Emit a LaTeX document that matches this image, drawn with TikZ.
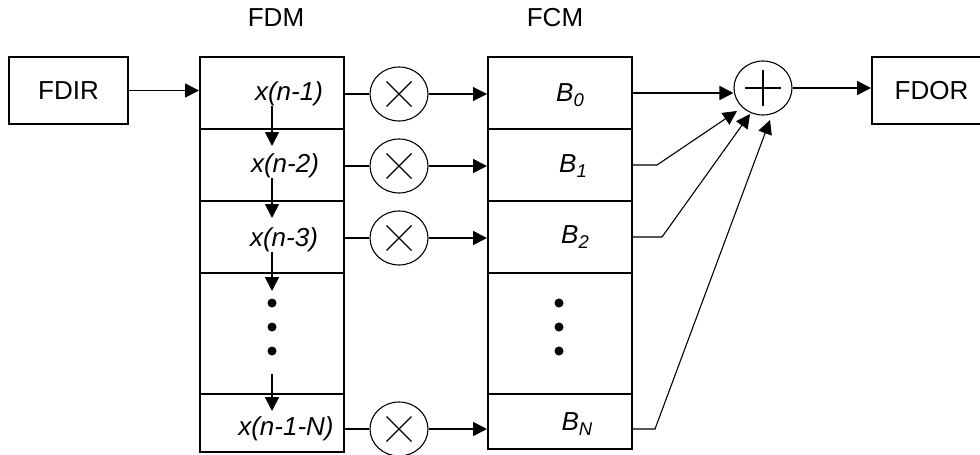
\documentclass[tikz,border=0pt]{standalone}
\usepackage{fontspec}
\setmainfont{Liberation Sans}
\usetikzlibrary{arrows.meta,shapes.geometric,calc}
\newcommand{\Bsub}[1]{\textit{B}\raisebox{-5pt}{\fontsize{18.5}{18.5}\selectfont\itshape #1}}
\begin{document}
\begin{tikzpicture}[x=1pt,y=-1pt,
  txt/.style={inner sep=0, font=\fontsize{26}{30}\selectfont},
  blk/.style={draw, line width=2pt, inner sep=0, minimum width=119pt, minimum height=67pt, font=\fontsize{26}{30}\selectfont},
  cell/.style={draw, line width=2pt, minimum width=144pt, inner sep=0},
  lbl/.style={inner sep=0, text height=18pt, text depth=6pt, font=\fontsize{26}{30}\selectfont\itshape},
  mul/.style={ellipse, draw, line width=1.1pt, minimum width=58pt, minimum height=54pt, inner sep=0,
    path picture={\draw[line width=1.1pt] (path picture bounding box.center) ++(-12.5pt,-12.5pt) -- ++(25pt,25pt) ++(-25pt,0pt) -- ++(25pt,-25pt);}},
  sumn/.style={ellipse, draw, line width=1.1pt, minimum width=58pt, minimum height=54pt, inner sep=0,
    path picture={\draw[line width=1.5pt] (path picture bounding box.center) ++(-18pt,0pt) -- ++(36pt,0pt) ++(-18pt,-18pt) -- ++(0pt,36pt);}},
  arr/.style={-{Triangle[length=14pt,width=14pt]}, line width=1.7pt},
  tarr/.style={-{Triangle[length=14pt,width=14pt]}, line width=1.1pt},
  ln/.style={line width=1.7pt},
  dot/.style={circle, fill, inner sep=0, minimum size=9pt}
]
\useasboundingbox (0,0) rectangle (980,455);
\clip (0,0) rectangle (980,455);

% titles
\node[txt] (tdm) at (276,18) {FDM};
\node[txt] (tcm) at (555,18) {FCM};

% input / output boxes
\node[blk] (fdir) at (68.5,90.5) {FDIR};
\node[blk] (fdor) at (931.5,90.5) {FDOR};

% FDM cells
\node[cell, minimum height=72pt] (c0) at (272,93) {};
\node[cell, minimum height=72pt] (c1) at (272,165) {};
\node[cell, minimum height=72pt] (c2) at (272,237) {};
\node[cell, minimum height=121pt] (c3) at (272,333.5) {};
\node[cell, minimum height=58pt] (c4) at (272,423) {};

% FCM cells
\node[cell, minimum height=72pt] (f0) at (560,93) {};
\node[cell, minimum height=72pt] (f1) at (560,165) {};
\node[cell, minimum height=72pt] (f2) at (560,237) {};
\node[cell, minimum height=121pt] (f3) at (560,333.5) {};
\node[cell, minimum height=55pt] (f4) at (560,421.5) {};

% FDM labels
\node[lbl] (t0) at (289,94) {x(n-1)};
\node[lbl] (t1) at (285,166) {x(n-2)};
\node[lbl] (t2) at (284,240) {x(n-3)};
\node[lbl] (t3) at (286,429) {x(n-1-N)};

% FCM labels
\node[lbl] (b0) at (570,95.5) {\Bsub{0}};
\node[lbl] (b1) at (573,166.5) {\Bsub{1}};
\node[lbl] (b2) at (575,237) {\Bsub{2}};
\node[lbl] (b3) at (577,424) {\Bsub{N}};

% dots
\node[dot] (d1) at (272,303) {};
\node[dot] (d2) at (272,327) {};
\node[dot] (d3) at (272,351) {};
\node[dot] (e1) at (559,303) {};
\node[dot] (e2) at (559,327) {};
\node[dot] (e3) at (559,351) {};

% multipliers
\node[mul] (m0) at (399,94) {};
\node[mul] (m1) at (399,166) {};
\node[mul] (m2) at (399,238) {};
\node[mul] (m3) at (399,429) {};

% adder
\node[sumn] (s) at (763,88) {};

% input arrow
\draw[arr] (fdir.east) -- (fdir.east -| c0.west);

% delay chain arrows
\draw[arr] (t0.south -| c0.center) -- ([yshift=-18pt]c1.north);
\draw[arr] (t1.south -| c1.center) -- ([yshift=-18pt]c2.north);
\draw[arr] (t2.south -| c2.center) -- ([yshift=-19pt]c3.north);
\draw[arr] ([yshift=-23pt]d3.center) -- ([yshift=-18pt]c4.north);

% taps to multipliers to FCM
\draw[line width=1.1pt] (m0.west -| c0.east) -- (m0.west);
\draw[tarr] (m0.east) -- (m0.east -| f0.west);
\foreach \i/\c/\f in {1/c1/f1, 2/c2/f2, 3/c4/f4}{
  \draw[ln] (m\i.west -| \c.east) -- (m\i.west);
  \draw[arr] (m\i.east) -- (m\i.east -| \f.west);
}

% to adder
\draw[arr] (f0.east) -- (f0.east -| s.west);
\draw[tarr] (f1.east) -- ++(24,0) -- ([xshift=-26pt,yshift=-23pt]s.center);
\draw[tarr] (f2.east) -- ++(29,0) -- ([xshift=-13pt,yshift=-26pt]s.center);
\draw[tarr] (f4.east |- m3.center) -- ++(22,0) -- ([xshift=7pt,yshift=-32pt]s.center);

% output arrow
\draw[arr] (s.east) -- (s.east -| fdor.west);
\end{tikzpicture}
\end{document}
